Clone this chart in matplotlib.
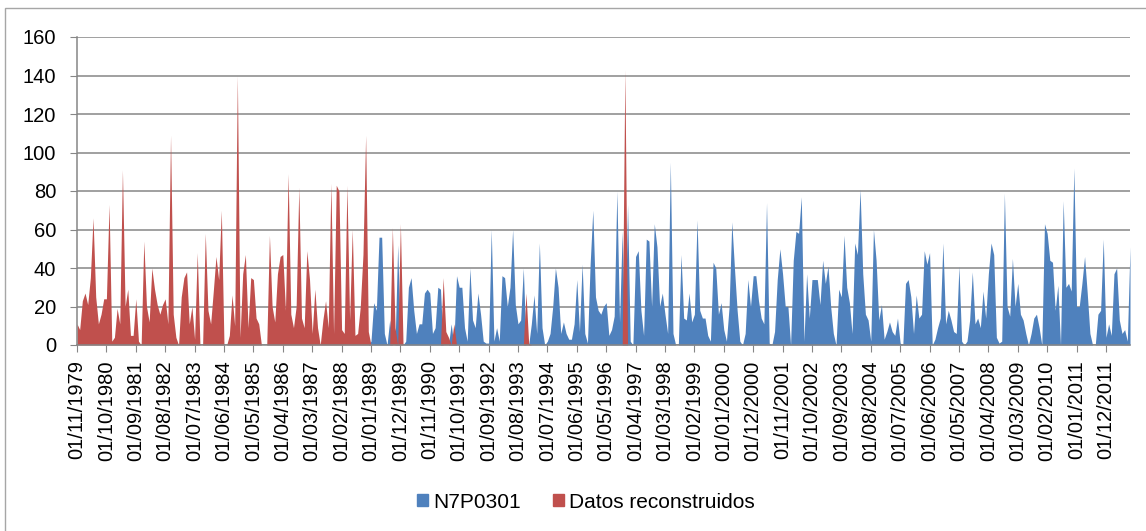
import numpy as np
import pandas as pd
import matplotlib
matplotlib.use("Agg")
import matplotlib.pyplot as plt
from matplotlib.patches import Patch, Rectangle

plt.rcParams['font.family'] = ['Liberation Sans', 'DejaVu Sans']

# monthly series starting 01/11/1979
serie = [
    11, 8, 23, 27, 21, 35, 66, 25, 11, 16,
    24, 24, 73, 2, 4, 19, 11, 91, 20, 29,
    5, 5, 24, 2, 0, 54, 20, 12, 40, 29,
    21, 16, 21, 24, 11, 109, 16, 4, 0, 25,
    35, 38, 11, 20, 3, 48, 0, 0, 58, 18,
    11, 28, 46, 34, 70, 0, 0, 5, 26, 10,
    140, 4, 37, 47, 9, 35, 34, 14, 11, 0,
    0, 0, 57, 20, 12, 37, 46, 47, 18, 89,
    16, 9, 20, 82, 14, 9, 49, 34, 6, 29,
    9, 0, 13, 23, 9, 84, 6, 83, 80, 8,
    6, 83, 13, 60, 5, 6, 20, 47, 109, 7,
    2, 22, 18, 56, 56, 6, 0, 13, 61, 9,
    52, 63, 0, 2, 30, 35, 18, 6, 11, 11,
    27, 29, 27, 6, 9, 30, 29, 35, 7, 4,
    11, 11, 36, 30, 30, 9, 2, 40, 13, 9,
    27, 16, 2, 1, 1, 60, 2, 9, 2, 36,
    35, 20, 30, 60, 21, 11, 13, 40, 27, 1,
    11, 26, 6, 53, 9, 0, 2, 6, 20, 40,
    30, 6, 12, 6, 3, 3, 11, 34, 7, 42,
    6, 1, 42, 70, 25, 18, 16, 20, 22, 5,
    8, 15, 80, 12, 59, 143, 73, 2, 0, 46,
    49, 18, 5, 55, 54, 20, 63, 51, 20, 27,
    16, 6, 95, 6, 0, 0, 47, 14, 13, 27,
    12, 16, 65, 18, 14, 14, 5, 2, 43, 40,
    16, 22, 8, 2, 20, 64, 40, 18, 2, 0,
    6, 34, 20, 36, 36, 23, 14, 11, 74, 1,
    0, 7, 34, 50, 37, 20, 20, 0, 44, 59,
    58, 77, 2, 37, 14, 34, 34, 34, 21, 44,
    32, 41, 20, 6, 0, 29, 25, 57, 30, 22,
    6, 53, 47, 81, 37, 16, 13, 2, 60, 44,
    13, 21, 3, 7, 12, 7, 5, 14, 1, 0,
    32, 34, 25, 6, 26, 14, 16, 49, 42, 48,
    0, 3, 9, 14, 53, 11, 18, 13, 7, 6,
    41, 2, 0, 2, 13, 38, 11, 14, 9, 28,
    14, 37, 53, 47, 4, 1, 2, 79, 20, 15,
    45, 20, 32, 16, 13, 6, 0, 6, 14, 16,
    9, 0, 63, 58, 44, 43, 18, 31, 0, 75,
    30, 32, 28, 92, 20, 20, 32, 46, 27, 6,
    0, 0, 16, 18, 55, 4, 11, 5, 37, 40,
    13, 6, 8, 2, 51,
]
# months filled with reconstructed data: the whole start up to 12/1988 plus a few gaps
meses_reconstruidos = list(range(0, 110)) + [118, 119, 121, 137, 138, 139, 141, 168, 169, 205]

fechas = pd.date_range('1979-11-01', periods=len(serie), freq='MS')
etiquetas = [f.strftime('%d/%m/%Y') for f in fechas]

valores = np.array(serie, dtype=float)
es_rec = np.zeros(len(valores), dtype=bool)
es_rec[meses_reconstruidos] = True
obs = np.where(es_rec, 0, valores)
rec = np.where(es_rec, valores, 0)
x = np.arange(len(valores))

azul = '#4F81BD'
rojo = '#C0504D'
gris = '#868686'

fig = plt.figure(figsize=(11.46, 5.31), dpi=100)
ax = fig.add_axes([77 / 1146, 1 - 345 / 531, (1130 - 77) / 1146, (345 - 37) / 531])

ax.fill_between(x, 0, obs, color=azul, linewidth=0)
ax.fill_between(x, 0, rec, color=rojo, linewidth=0)

ax.set_xlim(0, len(valores) - 1)
ax.set_ylim(0, 160)
ax.set_yticks(range(0, 161, 20))
ax.yaxis.grid(True, color=gris, linewidth=1.1)
ax.set_axisbelow(True)

paso = 11
ax.set_xticks(x[::paso])
ax.set_xticklabels(etiquetas[::paso], rotation=90, fontsize=14.5)
ax.tick_params(axis='y', labelsize=14.5, length=5, color=gris, pad=10)
ax.tick_params(axis='x', length=5, color=gris, pad=6)

for s in ['top', 'right']:
    ax.spines[s].set_visible(False)
for s in ['left', 'bottom']:
    ax.spines[s].set_color(gris)
    ax.spines[s].set_linewidth(1.1)

handles = [Patch(color=azul, label='N7P0301'), Patch(color=rojo, label='Datos reconstruidos')]
fig.legend(handles=handles, loc='center', bbox_to_anchor=(586 / 1146, 1 - 502 / 531), ncol=2,
           frameon=False, fontsize=15, handlelength=0.55, handleheight=0.55,
           handletextpad=0.25, columnspacing=1.5)

fig.patches.append(Rectangle((5 / 1146, -10 / 531), 1160 / 1146, 533 / 531,
                             transform=fig.transFigure, fill=False,
                             edgecolor='#A6A6A6', linewidth=1))

fig.savefig('out.png', dpi=100)
